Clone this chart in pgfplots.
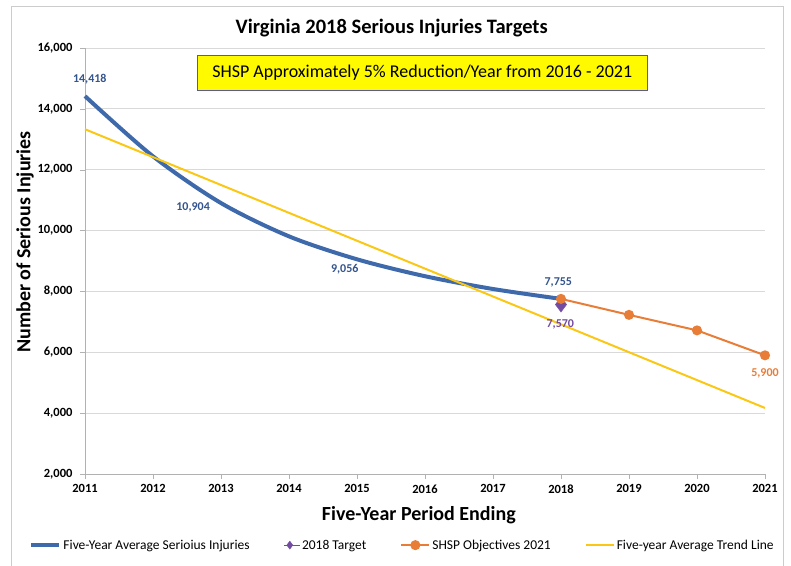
\documentclass[border=0pt]{standalone}
\usepackage{fontspec}
\setmainfont{Carlito}
\usepackage{pgfplots}
\pgfplotsset{compat=1.18}
\definecolor{blueline}{RGB}{62,106,172}
\definecolor{bluelab}{RGB}{52,84,140}
\definecolor{orangeline}{RGB}{232,125,55}
\definecolor{trend}{RGB}{250,200,20}
\definecolor{purp}{RGB}{115,75,160}
\definecolor{boxyellow}{RGB}{255,250,0}
\pgfplotsset{diamondlegend/.style={legend image code/.code={\path (0pt,0pt) -- (16pt,0pt); \draw[##1, mark size=4pt] plot coordinates {(6pt,0pt)};}}}
\begin{document}
\begin{tikzpicture}
\useasboundingbox (-85pt,-91pt) rectangle (706pt,474pt);
\draw[gray!40] (-74pt,-92pt) -- (-74pt,468pt) -- (698pt,468pt) -- (698pt,-92pt);
\begin{axis}[
  at={(0,0)}, anchor=south west,
  width=680pt, height=426pt, scale only axis,
  xmin=2011, xmax=2021, ymin=2000, ymax=16000,
  xtick={2011,2012,...,2021}, ytick={2000,4000,...,16000},
  scaled y ticks=false, scaled x ticks=false,
  axis x line=bottom, axis y line=left,
  axis line style={draw=gray!60,-},
  tick style={draw=gray!60},
  tick align=outside, major tick length=5pt,
  ymajorgrids, grid style={gray!30, line width=0.8pt},
  /pgf/number format/assume math mode=true,
  xticklabel style={font=\fontsize{12.5}{14}\selectfont\bfseries, /pgf/number format/1000 sep={}, yshift=-2pt},
  yticklabel style={font=\fontsize{12.5}{14}\selectfont\bfseries, xshift=-4pt, /pgf/number format/.cd, fixed, 1000 sep={,}},
  clip=false,
  legend style={draw=none, fill=none, at={(axis description cs:0.467,-0.167)}, anchor=center,
    font=\fontsize{13.5}{15}\selectfont, /tikz/every even column/.append style={column sep=32pt}},
  legend columns=4,
  legend image code/.code={\draw[mark repeat=2,mark phase=2,#1] plot coordinates {(0pt,0pt) (14pt,0pt) (28pt,0pt)};},
]
\addplot[blueline, line width=4pt, smooth] coordinates {(2011,14418) (2012,12440) (2013,10904) (2014,9810) (2015,9056) (2016,8500) (2017,8080) (2018,7755)};
\addlegendentry{Five-Year Average Serioius Injuries}
\addplot[only marks, mark=diamond*, mark size=7.5pt, color=purp, diamondlegend] coordinates {(2018,7570)};
\addlegendentry{2018 Target}
\addplot[orangeline, line width=2pt, mark=*, mark size=4pt, mark options={fill=orangeline, draw=orangeline}] coordinates {(2018,7755) (2019,7230) (2020,6720) (2021,5900)};
\addlegendentry{SHSP Objectives 2021}
\addplot[trend, line width=2pt] coordinates {(2011,13330) (2021,4170)};
\addlegendentry{Five-year Average Trend Line}

\node[font=\fontsize{12}{14}\selectfont\bfseries, text=bluelab] at (axis cs:2011.07,14967) {14,418};
\node[font=\fontsize{12}{14}\selectfont\bfseries, text=bluelab] at (axis cs:2012.59,10760) {10,904};
\node[font=\fontsize{12}{14}\selectfont\bfseries, text=bluelab] at (axis cs:2014.82,8723) {9,056};
\node[font=\fontsize{12}{14}\selectfont\bfseries, text=bluelab] at (axis cs:2017.96,8296) {7,755};
\node[font=\fontsize{12}{14}\selectfont\bfseries, text=purp] at (axis cs:2017.99,6916) {7,570};
\node[font=\fontsize{12}{14}\selectfont\bfseries, text=orangeline] at (axis cs:2021,5305) {5,900};

\node[font=\fontsize{20.5}{22}\selectfont\bfseries] at (axis cs:2015.51,16000) [yshift=20pt] {Virginia 2018 Serious Injuries Targets};
\node[fill=boxyellow, draw=gray!70!blue, line width=0.8pt, minimum width=450pt, minimum height=35pt, font=\fontsize{18}{20}\selectfont, inner sep=0pt] at (rel axis cs:0.496,0.9425) {SHSP Approximately 5\% Reduction/Year from 2016 - 2021};
\node[font=\fontsize{20}{22}\selectfont\bfseries] at (rel axis cs:0.491,0) [yshift=-41pt] {Five-Year Period Ending};
\node[font=\fontsize{20}{22}\selectfont\bfseries, rotate=90] at (axis cs:2010.118,9624) {Number of Serious Injuries};
\end{axis}
\end{tikzpicture}
\end{document}
